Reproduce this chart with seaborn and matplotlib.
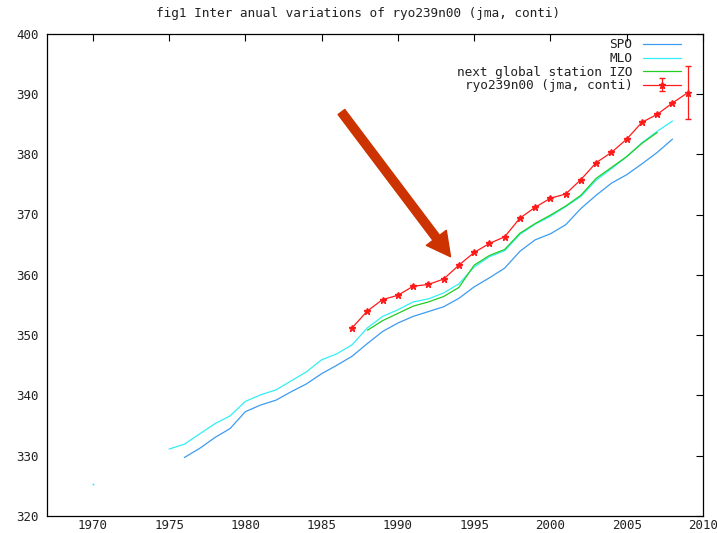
import numpy as np
import pandas as pd
import matplotlib
matplotlib.use("Agg")
import matplotlib.pyplot as plt
import seaborn as sns

# ---------------- data ----------------
spo_years = list(range(1976, 2009))
spo_vals = [329.7, 331.2, 333.0, 334.5, 337.3, 338.4, 339.2, 340.6, 341.9, 343.6,
            345.0, 346.5, 348.6, 350.6, 352.0, 353.1, 353.9, 354.7, 356.1, 358.0,
            359.5, 361.1, 363.9, 365.8, 366.8, 368.3, 371.0, 373.2, 375.2, 376.6,
            378.4, 380.3, 382.5]

mlo_early_year = [1970]
mlo_early_val = [325.3]
mlo_years = list(range(1975, 2009))
mlo_vals = [331.1, 331.9, 333.6, 335.3, 336.6, 339.0, 340.1, 340.9, 342.4, 343.9,
            345.9, 346.9, 348.4, 351.2, 353.1, 354.2, 355.5, 356.0, 357.0, 358.5,
            361.3, 363.0, 364.0, 366.7, 368.4, 369.7, 371.3, 373.0, 375.7, 377.6,
            379.6, 381.9, 383.8, 385.5]

izo_years = list(range(1988, 2008))
izo_vals = [350.8, 352.4, 353.6, 354.8, 355.5, 356.4, 357.9, 361.6, 363.2, 364.2,
            366.9, 368.5, 369.9, 371.4, 373.2, 376.0, 377.8, 379.6, 381.8, 383.6]

ryo_years = list(range(1987, 2010))
ryo_vals = [351.2, 354.0, 355.9, 356.6, 358.1, 358.4, 359.3, 361.6, 363.7, 365.2,
            366.3, 369.4, 371.2, 372.7, 373.4, 375.8, 378.6, 380.3, 382.5, 385.3,
            386.6, 388.5, 390.2]
ryo_err = [0.0] * 22 + [4.4]

xticks = [1970, 1975, 1980, 1985, 1990, 1995, 2000, 2005, 2010]
yticks = [320, 330, 340, 350, 360, 370, 380, 390, 400]
title = "fig1 Inter anual variations of ryo239n00 (jma, conti)"

# ---------------- style ----------------
sns.set_theme(style="white")
plt.rcParams["font.family"] = ["DejaVu Sans Mono", "DejaVu Sans"]

fig = plt.figure(figsize=(7.17, 5.33), dpi=100)
ax = fig.add_axes([47 / 717, 1 - 516 / 533, (703 - 47) / 717, (516 - 33.6) / 533])

c_spo = "#3d9bf0"
c_mlo = "#33eef5"
c_izo = "#22cc22"
c_ryo = "#ff1a1a"

sns.lineplot(x=spo_years, y=spo_vals, ax=ax, color=c_spo, lw=0.9, label="SPO")
sns.lineplot(x=mlo_years, y=mlo_vals, ax=ax, color=c_mlo, lw=0.9, label="MLO")
sns.scatterplot(x=mlo_early_year, y=mlo_early_val, ax=ax, color=c_mlo, s=2,
                linewidth=0, legend=False)
sns.lineplot(x=izo_years, y=izo_vals, ax=ax, color=c_izo, lw=0.9,
             label="next global station IZO")
ax.errorbar(ryo_years, ryo_vals, yerr=ryo_err, color=c_ryo, lw=0.9,
            marker="*", ms=5, capsize=2.2, elinewidth=0.9,
            label="ryo239n00 (jma, conti)")

# arrow annotation
ax.annotate("", xy=(1993.45, 363.0), xytext=(1986.3, 387.0),
            arrowprops=dict(width=6, headwidth=18, headlength=17,
                            color="#cc3300", shrink=0))

ax.set_xlim(1967, 2010)
ax.set_ylim(320, 400)
ax.set_xticks(xticks)
ax.set_yticks(yticks)
ax.set_xlabel("")
ax.set_ylabel("")
ax.tick_params(direction="in", length=5, width=0.8, labelsize=9,
               top=True, right=True, labelcolor="#222222", color="black")
ax.tick_params(axis="x", pad=2.5)
ax.tick_params(axis="y", pad=6)
for s in ax.spines.values():
    s.set_visible(True)
    s.set_color("black")
    s.set_linewidth(0.9)

fig.text(0.5, 1 - 14 / 533, title, ha="center", va="center", fontsize=9.2,
         color="#222222")

leg = ax.legend(loc="upper right", frameon=False, markerfirst=False,
                fontsize=9.2, handlelength=3.0, handletextpad=0.8,
                labelspacing=0.05, borderaxespad=0.0, borderpad=0.0,
                bbox_to_anchor=(0.9665, 0.99))
for col in leg._legend_box._children[-1]._children:
    col.align = "right"
for t in leg.get_texts():
    t.set_color("#222222")

fig.savefig("out.png", dpi=100)
